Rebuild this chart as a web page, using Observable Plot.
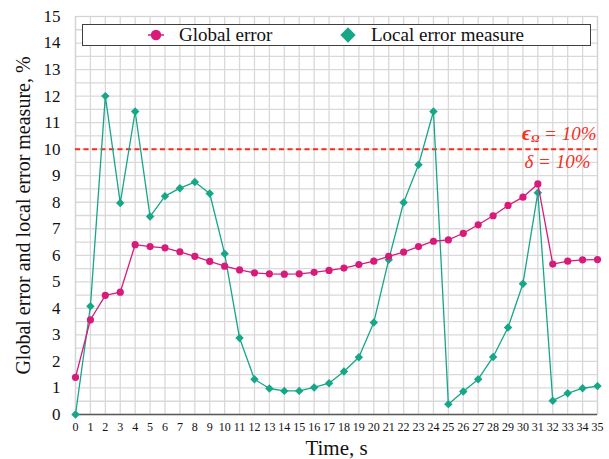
<!DOCTYPE html>
<html><head><meta charset="utf-8">
<script src="https://cdn.jsdelivr.net/npm/d3@7"></script>
<script src="https://cdn.jsdelivr.net/npm/@observablehq/plot@0.6"></script>
<style>
body{margin:0;background:#fff;}
#wrap{position:relative;width:609px;height:459px;font-family:"Liberation Serif","Tinos","Times New Roman",Times,"DejaVu Serif",serif;}
#wrap svg text{font-family:"Liberation Serif","Tinos","Times New Roman",Times,"DejaVu Serif",serif;}
#legend{position:absolute;left:82px;top:24px;width:507px;height:20px;border:1.5px solid #3f3f3f;background:#fff;box-sizing:content-box;}
#legend .item{position:absolute;top:0;height:20px;line-height:20px;font-size:19px;color:#111;white-space:nowrap;}
#legend svg{position:absolute;}
</style></head><body><div id="wrap"></div>
<script>
const time = [0,1,2,3,4,5,6,7,8,9,10,11,12,13,14,15,16,17,18,19,20,21,22,23,24,25,26,27,28,29,30,31,32,33,34,35];
const globalError = [1.4,3.57,4.49,4.61,6.4,6.33,6.28,6.13,5.96,5.77,5.59,5.45,5.34,5.3,5.29,5.3,5.36,5.43,5.52,5.65,5.78,5.96,6.12,6.33,6.53,6.58,6.83,7.15,7.49,7.88,8.19,8.69,5.67,5.78,5.83,5.84];
const localError = [0,4.08,12.0,7.97,11.42,7.46,8.23,8.53,8.76,8.33,6.06,2.88,1.33,0.98,0.89,0.89,1.02,1.18,1.62,2.16,3.47,5.83,7.99,9.41,11.42,0.39,0.87,1.33,2.17,3.28,4.93,8.36,0.52,0.8,0.99,1.07];
const yTicks = [0,1,2,3,4,5,6,7,8,9,10,11,12,13,14,15];
const yGrid = [0.5,1,1.5,2,2.5,3,3.5,4,4.5,5,5.5,6,6.5,7,7.5,8,8.5,9,9.5,10,10.5,11,11.5,12,12.5,13,13.5,14,14.5];
const threshold = [10];
const seriesNames = ["Global error","Local error measure"];
const colors = ["#d81b7b","#16a688"];
const redColor = "#f4301e";
const serif = '"Liberation Serif","Tinos","Times New Roman",Times,"DejaVu Serif",serif';

const gData = time.map((t,i)=>({t, v: globalError[i]}));
const lData = time.map((t,i)=>({t, v: localError[i]}));

const chart = Plot.plot({
  width: 609, height: 459,
  marginLeft: 75, marginRight: 12, marginTop: 16, marginBottom: 45,
  style: {fontFamily: serif, background: "#fff", color: "#111"},
  x: {domain: [0,35]},
  y: {domain: [0,15]},
  marks: [
    Plot.ruleX(time, {stroke: "#d9d9d9", strokeWidth: 1.3}),
    Plot.ruleY(yGrid, {stroke: "#d9d9d9", strokeWidth: 1.3}),
    Plot.frame({stroke: "#d4d4d4", strokeWidth: 1.3}),
    Plot.ruleY([0], {stroke: "#595959", strokeWidth: 1.6}),
    Plot.axisX({ticks: time, tickFormat: d=>String(d), tickSize: 0, tickPadding: 8, fontSize: 12, label: "Time, s", labelAnchor: "center", labelArrow: "none", labelOffset: 40}),
    Plot.axisY({ticks: yTicks, tickSize: 0, tickPadding: 15, fontSize: 17, label: "Global error and local error measure, %", labelAnchor: "center", labelArrow: "none", labelOffset: 60}),
    Plot.ruleY(threshold, {stroke: redColor, strokeWidth: 2, strokeDasharray: "5,3.5"}),
    Plot.text(threshold, {y: d=>d, frameAnchor: "right", textAnchor: "end", lineAnchor: "bottom", dy: -9, dx: -1, text: d=>`ϵΩ = ${d}%`, fill: redColor, fontSize: 19, fontStyle: "italic", className: "eps-label"}),
    Plot.text(threshold, {y: d=>d, frameAnchor: "right", textAnchor: "end", lineAnchor: "top", dy: 5, dx: -7, text: d=>`δ = ${d}%`, fill: redColor, fontSize: 19, fontStyle: "italic"}),
    Plot.line(lData, {x: "t", y: "v", stroke: colors[1], strokeWidth: 1.3}),
    Plot.dot(lData, {x: "t", y: "v", fill: colors[1], symbol: "diamond2", r: 3.8}),
    Plot.line(gData, {x: "t", y: "v", stroke: colors[0], strokeWidth: 1.3}),
    Plot.dot(gData, {x: "t", y: "v", fill: colors[0], r: 3.6}),
  ]
});

d3.select(chart).selectAll("g[aria-label='x-axis label'] text").attr("font-size", 21);
d3.select(chart).selectAll("g[aria-label='y-axis label'] text").attr("font-size", 20);
d3.select(chart).selectAll("g.eps-label text").each(function(){
  const t = d3.select(this); const s = t.text();
  t.text(null);
  t.append("tspan").attr("font-weight","bold").attr("font-size","21px").text("ϵ");
  t.append("tspan").attr("font-size","11px").attr("font-weight","bold").attr("dy","2").text("Ω");
  t.append("tspan").attr("dy","-2").text(s.replace("ϵΩ",""));
});

const wrap = document.getElementById("wrap");
wrap.appendChild(chart);

const legend = document.createElement("div");
legend.id = "legend";
const items = [
  {name: seriesNames[0], color: colors[0], symbol: "circle", cx: 73, tx: 96},
  {name: seriesNames[1], color: colors[1], symbol: "diamond", cx: 265, tx: 288}
];
items.forEach(it=>{
  const svg = d3.create("svg").attr("width", 26).attr("height", 20).style("left", (it.cx-13)+"px").style("top","0px");
  if (it.symbol === "circle") {
    svg.append("line").attr("x1",5).attr("x2",21).attr("y1",10).attr("y2",10).attr("stroke",it.color).attr("stroke-width",1.5);
    svg.append("circle").attr("cx",13).attr("cy",10).attr("r",5.2).attr("fill",it.color);
  } else {
    svg.append("path").attr("d", d3.symbol(d3.symbolDiamond2, 150)()).attr("transform","translate(13,10)").attr("fill",it.color);
  }
  legend.appendChild(svg.node());
  const lab = document.createElement("div");
  lab.className = "item"; lab.style.left = it.tx+"px"; lab.textContent = it.name;
  legend.appendChild(lab);
});
wrap.appendChild(legend);
</script>
</body></html>
